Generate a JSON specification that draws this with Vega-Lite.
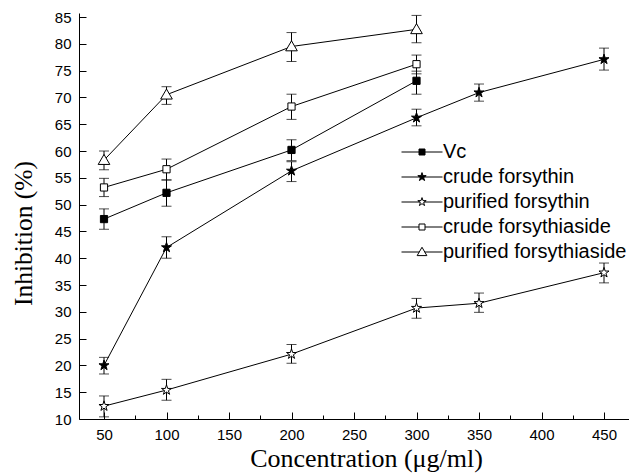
{
  "$schema": "https://vega.github.io/schema/vega-lite/v6.json",
  "width": 550,
  "height": 406,
  "autosize": {"type": "none"},
  "padding": {"left": 79, "top": 13, "right": 0, "bottom": 56},
  "background": "white",
  "config": {
    "view": {"stroke": null},
    "axis": {
      "grid": false,
      "domainColor": "black",
      "domainWidth": 1,
      "tickColor": "black",
      "tickWidth": 1,
      "labelColor": "black",
      "labelFont": "Liberation Sans",
      "labelFontSize": 15,
      "titleFont": "Liberation Serif",
      "titleFontWeight": "normal",
      "titleColor": "black"
    },
    "axisX": {"titleFontSize": 26},
    "axisY": {"titleFontSize": 25.5}
  },
  "data": {
    "values": [
      {"series": "Vc", "x": 50, "y": 47.3, "lo": 45.4, "hi": 49.2},
      {"series": "Vc", "x": 100, "y": 52.2, "lo": 49.7, "hi": 54.6},
      {"series": "Vc", "x": 200, "y": 60.2, "lo": 58.2, "hi": 62.1},
      {"series": "Vc", "x": 300, "y": 73.1, "lo": 70.6, "hi": 74.9},
      {"series": "crude forsythin", "x": 50, "y": 20.0, "lo": 18.4, "hi": 21.5},
      {"series": "crude forsythin", "x": 100, "y": 42.0, "lo": 40.0, "hi": 44.0},
      {"series": "crude forsythin", "x": 200, "y": 56.3, "lo": 54.3, "hi": 58.0},
      {"series": "crude forsythin", "x": 300, "y": 66.2, "lo": 64.7, "hi": 67.8},
      {"series": "crude forsythin", "x": 350, "y": 70.9, "lo": 69.3, "hi": 72.5},
      {"series": "crude forsythin", "x": 450, "y": 77.1, "lo": 75.1, "hi": 79.2},
      {"series": "purified forsythin", "x": 50, "y": 12.4, "lo": 10.4, "hi": 14.3},
      {"series": "purified forsythin", "x": 100, "y": 15.4, "lo": 13.5, "hi": 17.4},
      {"series": "purified forsythin", "x": 200, "y": 22.1, "lo": 20.4, "hi": 23.9},
      {"series": "purified forsythin", "x": 300, "y": 30.7, "lo": 28.8, "hi": 32.5},
      {"series": "purified forsythin", "x": 350, "y": 31.6, "lo": 29.9, "hi": 33.5},
      {"series": "purified forsythin", "x": 450, "y": 37.3, "lo": 35.4, "hi": 39.1},
      {"series": "crude forsythiaside", "x": 50, "y": 53.2, "lo": 51.5, "hi": 54.9},
      {"series": "crude forsythiaside", "x": 100, "y": 56.6, "lo": 54.6, "hi": 58.5},
      {"series": "crude forsythiaside", "x": 200, "y": 68.3, "lo": 65.9, "hi": 70.6},
      {"series": "crude forsythiaside", "x": 300, "y": 76.2, "lo": 74.4, "hi": 77.9},
      {"series": "purified forsythiaside", "x": 50, "y": 58.3, "lo": 56.5, "hi": 60.0},
      {"series": "purified forsythiaside", "x": 100, "y": 70.5, "lo": 68.7, "hi": 72.0},
      {"series": "purified forsythiaside", "x": 200, "y": 79.5, "lo": 76.7, "hi": 82.1},
      {"series": "purified forsythiaside", "x": 300, "y": 82.7, "lo": 80.2, "hi": 85.3}
    ]
  },
  "encoding": {
    "x": {
      "field": "x",
      "type": "quantitative",
      "title": "Concentration (μg/ml)",
      "scale": {"domain": [30, 470], "nice": false, "zero": false},
      "axis": {
        "values": [50, 75, 100, 125, 150, 175, 200, 225, 250, 275, 300, 325, 350, 375, 400, 425, 450],
        "labelExpr": "datum.value % 50 == 0 ? datum.label : ''",
        "tickSize": {"condition": {"test": "datum.value % 50 == 0", "value": -7}, "value": -4},
        "labelPadding": 15,
        "titlePadding": 3,
        "titleX": 287
      }
    }
  },
  "layer": [
    {
      "mark": {"type": "rule", "color": "black", "strokeWidth": 1},
      "encoding": {
        "y": {"field": "lo", "type": "quantitative", "title": "Inhibition (%)", "scale": {"domain": [10, 85.75], "nice": false, "zero": false}, "axis": {"values": [10, 15, 20, 25, 30, 35, 40, 45, 50, 55, 60, 65, 70, 75, 80, 85], "tickSize": -7, "labelPadding": 15, "titlePadding": 18, "titleY": 220}},
        "y2": {"field": "hi"}
      }
    },
    {
      "mark": {"type": "tick", "orient": "horizontal", "color": "black", "thickness": 1, "size": 10},
      "encoding": {
        "y": {"field": "hi", "type": "quantitative", "title": "Inhibition (%)", "scale": {"domain": [10, 85.75], "nice": false, "zero": false}, "axis": {"values": [10, 15, 20, 25, 30, 35, 40, 45, 50, 55, 60, 65, 70, 75, 80, 85], "tickSize": -7, "labelPadding": 15, "titlePadding": 18, "titleY": 220}}
      }
    },
    {
      "mark": {"type": "tick", "orient": "horizontal", "color": "black", "thickness": 1, "size": 10},
      "encoding": {
        "y": {"field": "lo", "type": "quantitative", "title": "Inhibition (%)", "scale": {"domain": [10, 85.75], "nice": false, "zero": false}, "axis": {"values": [10, 15, 20, 25, 30, 35, 40, 45, 50, 55, 60, 65, 70, 75, 80, 85], "tickSize": -7, "labelPadding": 15, "titlePadding": 18, "titleY": 220}}
      }
    },
    {
      "mark": {"type": "line", "color": "black", "strokeWidth": 1},
      "encoding": {
        "y": {"field": "y", "type": "quantitative", "title": "Inhibition (%)", "scale": {"domain": [10, 85.75], "nice": false, "zero": false}, "axis": {"values": [10, 15, 20, 25, 30, 35, 40, 45, 50, 55, 60, 65, 70, 75, 80, 85], "tickSize": -7, "labelPadding": 15, "titlePadding": 18, "titleY": 220}},
        "detail": {"field": "series"}
      }
    },
    {
      "mark": {"type": "point", "stroke": "black", "strokeWidth": 1, "opacity": 1, "size": 144},
      "encoding": {
        "y": {"field": "y", "type": "quantitative", "title": "Inhibition (%)", "scale": {"domain": [10, 85.75], "nice": false, "zero": false}, "axis": {"values": [10, 15, 20, 25, 30, 35, 40, 45, 50, 55, 60, 65, 70, 75, 80, 85], "tickSize": -7, "labelPadding": 15, "titlePadding": 18, "titleY": 220}},
        "shape": {
          "field": "series",
          "legend": null,
          "scale": {
            "domain": ["Vc", "crude forsythin", "purified forsythin", "crude forsythiaside", "purified forsythiaside"],
            "range": [
              "M-0.6,-0.6H0.6V0.6H-0.6Z",
              "M0,-0.88L0.198,-0.272L0.837,-0.272L0.32,0.104L0.517,0.712L0,0.336L-0.517,0.712L-0.32,0.104L-0.837,-0.272L-0.198,-0.272Z",
              "M0,-0.88L0.198,-0.272L0.837,-0.272L0.32,0.104L0.517,0.712L0,0.336L-0.517,0.712L-0.32,0.104L-0.837,-0.272L-0.198,-0.272Z",
              "M-0.6,-0.6H0.6V0.6H-0.6Z",
              "M0,-0.95L0.97,0.72L-0.97,0.72Z"
            ]
          }
        },
        "fill": {
          "field": "series",
          "legend": null,
          "scale": {
            "domain": ["Vc", "crude forsythin", "purified forsythin", "crude forsythiaside", "purified forsythiaside"],
            "range": ["black", "black", "white", "white", "white"]
          }
        }
      }
    },
    {
      "transform": [{"filter": "datum.x > 1000"}],
      "mark": {"type": "point", "strokeWidth": 1, "opacity": 1},
      "encoding": {
        "y": {"field": "y", "type": "quantitative", "title": "Inhibition (%)", "scale": {"domain": [10, 85.75], "nice": false, "zero": false}, "axis": {"values": [10, 15, 20, 25, 30, 35, 40, 45, 50, 55, 60, 65, 70, 75, 80, 85], "tickSize": -7, "labelPadding": 15, "titlePadding": 18, "titleY": 220}},
        "shape": {
          "field": "series",
          "title": null,
          "scale": {
            "domain": ["Vc", "crude forsythin", "purified forsythin", "crude forsythiaside", "purified forsythiaside"],
            "range": [
              "M-4.1,0H4.1M-0.6,-0.6H0.6V0.6H-0.6Z",
              "M-4.1,0H4.1M0,-0.88L0.198,-0.272L0.837,-0.272L0.32,0.104L0.517,0.712L0,0.336L-0.517,0.712L-0.32,0.104L-0.837,-0.272L-0.198,-0.272Z",
              "M-4.1,0H-0.4M0.4,0H4.1M0,-0.88L0.198,-0.272L0.837,-0.272L0.32,0.104L0.517,0.712L0,0.336L-0.517,0.712L-0.32,0.104L-0.837,-0.272L-0.198,-0.272Z",
              "M-4.1,0H-0.6M0.6,0H4.1M-0.6,-0.6H0.6V0.6H-0.6Z",
              "M-4.1,0H-0.55M0.55,0H4.1M0,-0.95L0.97,0.72L-0.97,0.72Z"
            ]
          },
          "legend": {
            "orient": "none",
            "legendX": 333,
            "legendY": 129,
            "padding": 0,
            "symbolSize": 100,
            "symbolStrokeWidth": 1,
            "labelFont": "Liberation Sans",
            "labelFontSize": 20,
            "labelColor": "black",
            "labelLimit": 0,
            "labelOffset": 11,
            "rowPadding": 5
          }
        },
        "fill": {
          "field": "series",
          "title": null,
          "scale": {
            "domain": ["Vc", "crude forsythin", "purified forsythin", "crude forsythiaside", "purified forsythiaside"],
            "range": ["black", "black", "white", "white", "white"]
          },
          "legend": {
            "orient": "none",
            "legendX": 333,
            "legendY": 129,
            "padding": 0,
            "symbolSize": 100,
            "symbolStrokeWidth": 1,
            "labelFont": "Liberation Sans",
            "labelFontSize": 20,
            "labelColor": "black",
            "labelLimit": 0,
            "labelOffset": 11,
            "rowPadding": 5
          }
        },
        "stroke": {
          "field": "series",
          "title": null,
          "scale": {
            "domain": ["Vc", "crude forsythin", "purified forsythin", "crude forsythiaside", "purified forsythiaside"],
            "range": ["black", "black", "black", "black", "black"]
          },
          "legend": {
            "orient": "none",
            "legendX": 333,
            "legendY": 129,
            "padding": 0,
            "symbolSize": 100,
            "symbolStrokeWidth": 1,
            "labelFont": "Liberation Sans",
            "labelFontSize": 20,
            "labelColor": "black",
            "labelLimit": 0,
            "labelOffset": 11,
            "rowPadding": 5
          }
        }
      }
    }
  ],
  "resolve": {
    "scale": {"shape": "independent", "fill": "independent", "stroke": "independent"},
    "legend": {"shape": "independent", "fill": "independent", "stroke": "independent"}
  }
}
